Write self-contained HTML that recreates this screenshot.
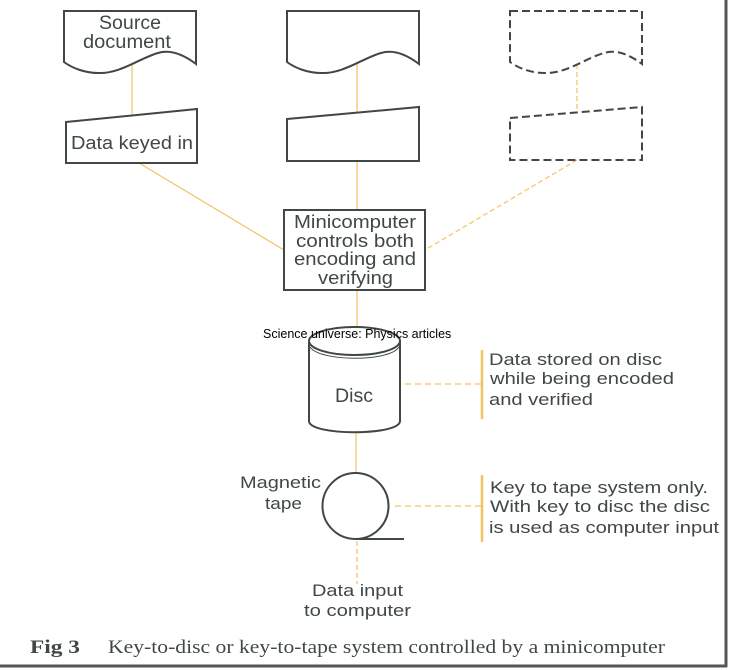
<!DOCTYPE html>
<html><head><meta charset="utf-8"><style>
html,body{margin:0;padding:0;background:#fff;}
body{width:729px;height:670px;overflow:hidden;position:relative;}
svg{position:absolute;left:0;top:0;}
</style></head><body>
<svg width="729" height="670" viewBox="0 0 729 670" xmlns="http://www.w3.org/2000/svg">
<g fill="none" stroke="#f5c25e" stroke-width="1.2">
 <line x1="132" y1="64" x2="132" y2="116"/>
 <line x1="357" y1="64" x2="357" y2="112"/>
 <line x1="577" y1="64" x2="577" y2="111" stroke-dasharray="5,3"/>
 <line x1="139" y1="163" x2="284" y2="250"/>
 <line x1="357" y1="161" x2="357" y2="210"/>
 <line x1="577" y1="160" x2="425" y2="250" stroke-dasharray="5,3"/>
 <line x1="357" y1="290" x2="357" y2="327"/>
 <line x1="356" y1="433" x2="356" y2="473"/>
 <line x1="357" y1="541" x2="357" y2="584" stroke-dasharray="5,3"/>
 <line x1="405" y1="384" x2="482" y2="384" stroke-dasharray="6,4"/>
 <line x1="395" y1="506" x2="482" y2="506" stroke-dasharray="6,4"/>
</g>
<g stroke="#f5c25e" stroke-width="2.5">
 <line x1="482" y1="350" x2="482" y2="419"/>
 <line x1="482" y1="475" x2="482" y2="542"/>
</g>
<g fill="none" stroke="#3f4846" stroke-width="2">
 <path d="M64 11 H196 V64 C180 52 168 50 158 53 C140 58 120 74 98 73 C85 73 72 68 64 62 Z"/>
 <path d="M287 11 H419 V64 C403 52 391 50 381 53 C363 58 343 74 321 73 C308 73 295 68 287 62 Z"/>
 <path d="M510 11 H642 V64 C626 52 614 50 604 53 C586 58 566 74 544 73 C531 73 518 68 510 62 Z" stroke-dasharray="8,4"/>
 <path d="M66 122 L197 109 V163 H66 Z"/>
 <path d="M287 119 L419 107 V161 H287 Z"/>
 <path d="M510 118 L642 107 V160 H510 Z" stroke-dasharray="8,4"/>
 <rect x="284" y="210" width="141" height="80"/>
 <ellipse cx="354.5" cy="341" rx="45.5" ry="14"/>
 <path d="M309 341 V421 C309 436 400 436 400 421 V341"/>
 <path d="M310 347 C320 362 390 362 399 347" stroke-width="1"/>
 <circle cx="355.5" cy="506" r="33"/>
 <line x1="355" y1="539" x2="404" y2="539"/>
</g>
<g stroke="#555" stroke-width="3"><line x1="726" y1="0" x2="726" y2="667"/><line x1="0" y1="666" x2="727" y2="666"/></g>
<g font-family="Liberation Sans, sans-serif" fill="#3f4846" lengthAdjust="spacingAndGlyphs">
 <text x="99" y="29" font-size="19" textLength="62" lengthAdjust="spacingAndGlyphs">Source</text>
 <text x="83" y="48" font-size="19" textLength="88" lengthAdjust="spacingAndGlyphs">document</text>
 <text x="71" y="149" font-size="18" textLength="122" lengthAdjust="spacingAndGlyphs">Data keyed in</text>
 <text x="294" y="228" font-size="18.5" textLength="122" lengthAdjust="spacingAndGlyphs">Minicomputer</text>
 <text x="296" y="247" font-size="18.5" textLength="118" lengthAdjust="spacingAndGlyphs">controls both</text>
 <text x="294" y="265" font-size="18.5" textLength="122" lengthAdjust="spacingAndGlyphs">encoding and</text>
 <text x="318" y="284" font-size="18.5" textLength="75" lengthAdjust="spacingAndGlyphs">verifying</text>
 <text x="335" y="402" font-size="19" textLength="38" lengthAdjust="spacingAndGlyphs">Disc</text>
 <text x="240" y="488" font-size="16.5" textLength="81" lengthAdjust="spacingAndGlyphs">Magnetic</text>
 <text x="265" y="509" font-size="16.5" textLength="37" lengthAdjust="spacingAndGlyphs">tape</text>
 <text x="312" y="596" font-size="17" textLength="91" lengthAdjust="spacingAndGlyphs">Data input</text>
 <text x="304" y="616" font-size="17" textLength="107" lengthAdjust="spacingAndGlyphs">to computer</text>
 <text x="489" y="365" font-size="17" textLength="173" lengthAdjust="spacingAndGlyphs">Data stored on disc</text>
 <text x="490" y="384" font-size="17" textLength="184" lengthAdjust="spacingAndGlyphs">while being encoded</text>
 <text x="489" y="405" font-size="17" textLength="104" lengthAdjust="spacingAndGlyphs">and verified</text>
 <text x="490" y="493" font-size="17" textLength="218" lengthAdjust="spacingAndGlyphs">Key to tape system only.</text>
 <text x="490" y="512" font-size="17" textLength="220" lengthAdjust="spacingAndGlyphs">With key to disc the disc</text>
 <text x="489" y="533" font-size="17" textLength="230" lengthAdjust="spacingAndGlyphs">is used as computer input</text>
</g>
<text x="263" y="338" font-family="Liberation Sans, sans-serif" font-size="12.5" fill="#000">Science universe: Physics articles</text>
<g font-family="Liberation Serif, serif" fill="#3f4846" font-size="19">
 <text x="30" y="653" font-weight="bold" textLength="50" lengthAdjust="spacingAndGlyphs">Fig 3</text>
 <text x="108" y="653" textLength="557" lengthAdjust="spacingAndGlyphs">Key-to-disc or key-to-tape system controlled by a minicomputer</text>
</g>
</svg>
</body></html>
